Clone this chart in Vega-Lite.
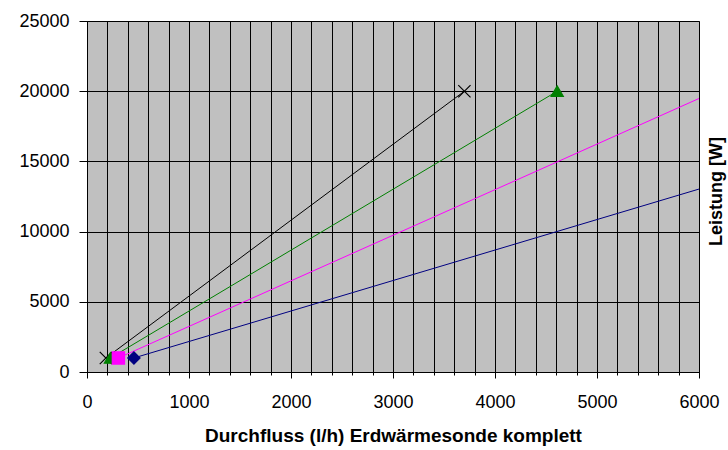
{
  "$schema": "https://vega.github.io/schema/vega-lite/v6.json",
  "width": 612,
  "height": 351,
  "autosize": "none",
  "padding": {"left": 87, "top": 21, "right": 29, "bottom": 78},
  "background": "white",
  "config": {
    "font": "Liberation Sans",
    "view": {"fill": "#c0c0c0", "stroke": "#808080", "strokeWidth": 1},
    "axis": {"labelFont": "Liberation Sans", "titleFont": "Liberation Sans", "labelColor": "black", "titleColor": "black", "domainColor": "black", "tickColor": "black", "gridColor": "black", "gridOpacity": 1, "gridWidth": 1}
  },
  "data": {
    "values": [
      {"series": "A", "x": 185, "y": 1000},
      {"series": "A", "x": 3700, "y": 20000},
      {"series": "B", "x": 230, "y": 1000},
      {"series": "B", "x": 4610, "y": 20000},
      {"series": "C", "x": 308, "y": 1000},
      {"series": "C", "x": 6160, "y": 20000},
      {"series": "D", "x": 460, "y": 1000},
      {"series": "D", "x": 9210, "y": 20000}
    ]
  },
  "encoding": {
    "x": {
      "field": "x", "type": "quantitative",
      "scale": {"domain": [0, 6000], "nice": false, "zero": true},
      "axis": {
        "values": [0,200,400,600,800,1000,1200,1400,1600,1800,2000,2200,2400,2600,2800,3000,3200,3400,3600,3800,4000,4200,4400,4600,4800,5000,5200,5400,5600,5800,6000],
        "labelExpr": "datum.value % 1000 === 0 ? datum.value : ''",
        "tickSize": {"condition": {"test": "datum.value % 1000 === 0", "value": 6}, "value": 3},
        "labelFontSize": 18, "labelPadding": 15,
        "title": "Durchfluss (l/h) Erdwärmesonde komplett",
        "titleFontSize": 19, "titleFontWeight": "bold", "titlePadding": 15,
        "labelFlush": false
      }
    },
    "y": {
      "field": "y", "type": "quantitative",
      "scale": {"domain": [0, 25000], "nice": false},
      "axis": {
        "values": [0, 5000, 10000, 15000, 20000, 25000],
        "format": "d",
        "labelFontSize": 18, "tickSize": 8, "labelPadding": 10,
        "title": "Leistung [W]", "titleFontSize": 18, "titleFontWeight": "bold",
        "titleAngle": 270, "titleX": 629, "titleY": 170, "titleAlign": "center", "titleBaseline": "middle"
      }
    }
  },
  "layer": [
    {
      "mark": {"type": "line", "clip": true, "strokeWidth": 1},
      "encoding": {
        "color": {"field": "series", "type": "nominal", "legend": null,
          "scale": {"domain": ["A", "B", "C", "D"], "range": ["#000000", "#008000", "#ff00ff", "#000080"]}},
        "detail": {"field": "series"}
      }
    },
    {
      "mark": {"type": "point", "clip": true, "filled": true, "opacity": 1, "strokeWidth": 1.2},
      "encoding": {
        "fill": {"field": "series", "type": "nominal", "legend": null,
          "scale": {"domain": ["A", "B", "C", "D"], "range": ["#000000", "#008000", "#ff00ff", "#000080"]}},
        "stroke": {"field": "series", "type": "nominal", "legend": null,
          "scale": {"domain": ["A", "B", "C", "D"], "range": ["#000000", "#008000", "#ff00ff", "#000080"]}},
        "shape": {"field": "series", "type": "nominal", "legend": null,
          "scale": {"domain": ["A", "B", "C", "D"], "range": ["M-1,-1L1,1M1,-1L-1,1", "triangle-up", "square", "diamond"]}},
        "size": {"field": "series", "type": "nominal", "legend": null,
          "scale": {"domain": ["A", "B", "C", "D"], "range": [150, 150, 110, 130]}}
      }
    }
  ]
}
